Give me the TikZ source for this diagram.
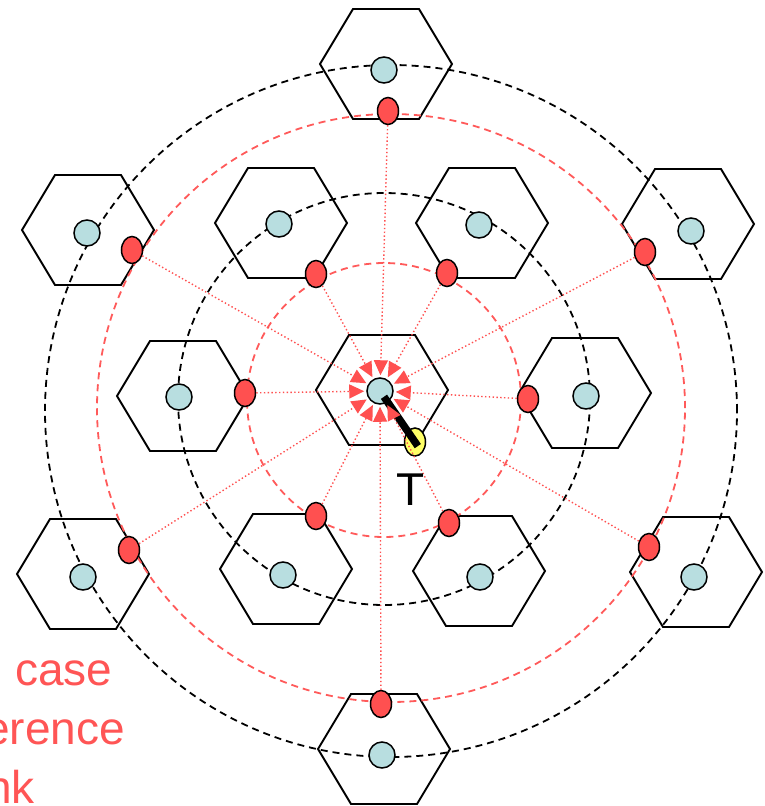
\documentclass[tikz,border=0pt]{standalone}
\usepackage{fontspec}
\setmainfont{Liberation Sans}
\usetikzlibrary{shapes.geometric,arrows.meta}
\definecolor{dotred}{RGB}{255,80,80}
\definecolor{ringred}{RGB}{255,90,90}
\definecolor{txtred}{RGB}{255,85,85}
\definecolor{cellblue}{RGB}{184,222,224}
\definecolor{uyellow}{RGB}{255,255,102}
\newcommand\hexcell[1]{\draw[hexline] (#1) ++(-66,0) -- ++(33,-55) -- ++(66,0) -- ++(33,55) -- ++(-33,55) -- ++(-66,0) -- cycle;}
\begin{document}
\begin{tikzpicture}[x=1pt,y=-1pt,
  hexline/.style={line width=1.9pt, line join=miter},
  ringblack/.style={black, line width=1.8pt, dash pattern=on 7pt off 5pt},
  ringredst/.style={ringred, line width=1.8pt, dash pattern=on 7pt off 5pt},
  bs/.style={circle, draw=black, line width=1.5pt, fill=cellblue, minimum size=26pt, inner sep=0pt},
  ms/.style={ellipse, draw=black, line width=1.5pt, fill=dotred, minimum width=21pt, minimum height=27pt, inner sep=0pt},
  ue/.style={ellipse, draw=black, line width=1.5pt, fill=uyellow, minimum width=21pt, minimum height=28pt, inner sep=0pt},
  ray/.style={dotred, line width=1.4pt, dash pattern=on 1.4pt off 2.4pt, -{Triangle[length=15pt,width=14pt]}, shorten >=2pt},
  lbl/.style={text=txtred, font=\fontsize{46}{54}\selectfont, inner sep=0pt}]
\useasboundingbox (0,0) rectangle (765,806);
% hexagon centres
\coordinate (h0) at (382,390);
\coordinate (hul) at (281,223);
\coordinate (hur) at (482,223);
\coordinate (hl) at (183,396);
\coordinate (hr) at (585,393);
\coordinate (hll) at (286,569);
\coordinate (hlr) at (479,571);
\coordinate (ht) at (386,64);
\coordinate (htl) at (88,230);
\coordinate (htr) at (688,224);
\coordinate (hbl) at (83,574);
\coordinate (hbr) at (696,572);
\coordinate (hb) at (384,749);
\foreach \h in {h0,hul,hur,hl,hr,hll,hlr,ht,htl,htr,hbl,hbr,hb}{\hexcell{\h}}
% rings
\draw[ringredst] (384,400) circle[radius=137pt];
\draw[ringblack] (384,399) circle[radius=206pt];
\draw[ringredst] (391,408) circle[radius=294pt];
\draw[ringblack] (391,411) circle[radius=346pt];
% base stations
\node[bs] (b0) at (380,391) {};
\node[bs] (bul) at (279,224) {};
\node[bs] (bur) at (479,225) {};
\node[bs] (bl) at (179,397) {};
\node[bs] (br) at (586,396) {};
\node[bs] (bll) at (283,575) {};
\node[bs] (blr) at (480,577) {};
\node[bs] (bt) at (384,70) {};
\node[bs] (btl) at (87,233) {};
\node[bs] (btr) at (691,231) {};
\node[bs] (bbl) at (83,577) {};
\node[bs] (bbr) at (694,577) {};
\node[bs] (bb) at (382,755) {};
% interfering mobiles
\node[ms] (mul) at (316,274) {};
\node[ms] (mur) at (447,273) {};
\node[ms] (ml) at (245,393) {};
\node[ms] (mr) at (528,399) {};
\node[ms] (mll) at (316,516) {};
\node[ms] (mlr) at (449,523) {};
\node[ms] (mt) at (388,111) {};
\node[ms] (mtl) at (132,250) {};
\node[ms] (mtr) at (645,252) {};
\node[ms] (mbl) at (129,550) {};
\node[ms] (mbr) at (649,547) {};
\node[ms] (mb) at (381,704) {};
% user terminal
\node[ue] (u) at (415,442) {};
\draw[line width=7.5pt, shorten <=7pt, shorten >=-5pt] (b0.center) -- (u.center);
% interference rays
\foreach \m in {mul,mur,ml,mr,mll,mlr,mt,mtl,mtr,mbl,mbr,mb}{\draw[ray] (\m) -- (b0);}
\node[font=\fontsize{46}{50}\selectfont, anchor=base, inner sep=0pt] (tl) at (411,505) {T};
% label fragments
\node[lbl, anchor=base west] (l1) at (15,685) {case};
\node[lbl, anchor=base east] (l2) at (125,744) {erence};
\node[lbl, anchor=base east] (l3) at (35,803) {nk};
\end{tikzpicture}
\end{document}
